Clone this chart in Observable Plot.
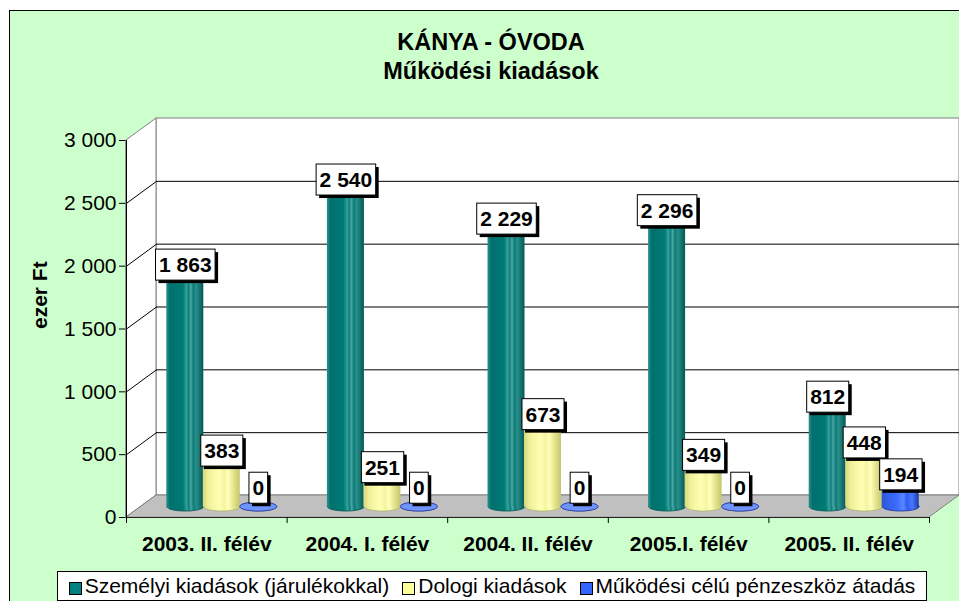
<!DOCTYPE html>
<html><head><meta charset="utf-8">
<script src="https://cdn.jsdelivr.net/npm/d3@7"></script>
<script src="https://cdn.jsdelivr.net/npm/@observablehq/plot@0.6"></script>
<style>
html,body{margin:0;padding:0;width:959px;height:601px;overflow:hidden;background:#fff;font-family:"Liberation Sans",Arial,sans-serif;color:#000;}
#frame{position:absolute;left:9px;top:10px;width:1000px;height:700px;background:#CCFFCC;border-left:1px solid #000;border-top:1px solid #000;}
#chart{position:absolute;left:0;top:0;}
#title{position:absolute;left:0;top:28px;width:982px;text-align:center;font-weight:bold;font-size:23.5px;line-height:29px;}
#legend{position:absolute;left:57px;top:571px;width:868px;height:28px;border:1px solid #000;background:#fff;display:flex;align-items:center;justify-content:center;font-size:21px;white-space:nowrap;}
#legend .sw{display:inline-block;width:11px;height:11px;border:1px solid #000;margin-right:3px;position:relative;top:2px;}
#legend .item{display:inline-flex;align-items:center;margin-right:13px;}
#legend .item:last-child{margin-right:0;}
</style>
</head><body>
<svg width="0" height="0" style="position:absolute">
<defs>
<linearGradient id="gTeal" x1="0" x2="1" y1="0" y2="0">
<stop offset="0%" stop-color="#2a918d"/><stop offset="10%" stop-color="#00706c"/><stop offset="45%" stop-color="#007a76"/>
<stop offset="55%" stop-color="#3aa09c"/><stop offset="60%" stop-color="#0a7d79"/><stop offset="66%" stop-color="#4aa8a4"/>
<stop offset="73%" stop-color="#0b7a76"/><stop offset="80%" stop-color="#2b8f8b"/><stop offset="100%" stop-color="#005a57"/>
</linearGradient>
<linearGradient id="gYellow" x1="0" x2="1" y1="0" y2="0">
<stop offset="0%" stop-color="#d6d67c"/><stop offset="15%" stop-color="#f0f09a"/><stop offset="45%" stop-color="#ffffb4"/>
<stop offset="58%" stop-color="#f4f4a0"/><stop offset="68%" stop-color="#ffffbc"/><stop offset="82%" stop-color="#e6e68e"/><stop offset="100%" stop-color="#c4c474"/>
</linearGradient>
<linearGradient id="gBlue" x1="0" x2="1" y1="0" y2="0">
<stop offset="0%" stop-color="#2c58d8"/><stop offset="40%" stop-color="#3b6cff"/><stop offset="58%" stop-color="#5a86ff"/>
<stop offset="68%" stop-color="#2f5ef0"/><stop offset="82%" stop-color="#4a78ff"/><stop offset="100%" stop-color="#1a3aa8"/>
</linearGradient>
</defs>
</svg>
<div id="frame"></div>
<div id="chart"></div>
<div id="title">KÁNYA - ÓVODA<br>Működési kiadások</div>
<div id="legend"></div>
<script>
// ---- data ----
const categories = ["2003. II. félév", "2004. I. félév", "2004. II. félév", "2005.I. félév", "2005. II. félév"];
const seriesNames = ["Személyi kiadások (járulékokkal)", "Dologi kiadások", "Működési célú pénzeszköz átadás"];
const szemelyi = [1863, 2540, 2229, 2296, 812];
const dologi = [383, 251, 673, 349, 448];
const atadas = [0, 0, 0, 0, 194];
const yTicks = [0, 500, 1000, 1500, 2000, 2500, 3000];
const yTitle = "ezer Ft";

// ---- styling ----
const seriesValues = [szemelyi, dologi, atadas];
const swatchColors = ["#008080", "#FFFF99", "#3366FF"];
const bodyFills = ["url(#gTeal)", "url(#gYellow)", "url(#gBlue)"];
const topFills = ["#3c9c98", "#ffffc4", "#6f93ff"];
const capStrokes = ["#005552", "#b0b070", "#1a2f90"];

const W = 959, H = 560, mL = 126, mR = 30, mT = 140, mB = 43;
const yMax = 3000;
const nCat = categories.length;
const pxX = (W - mL - mR) / nCat;      // px per category unit
const pxY = (H - mT - mB) / yMax;      // px per value unit
const DX = 30, DY = 22;                // 3D depth in px
const dXu = DX / pxX, dYu = DY / pxY;  // depth in data units
const barStep = 36.5 / pxX;
const barHalf = 18.5 / pxX;
const barR = barHalf * pxX;
const fmt = v => d3.format(",")(v).replace(/,/g, " ");

const ellipse = {
  draw(ctx, size) {
    const rx = Math.sqrt(size / Math.PI), ry = rx * 0.245, k = 0.5523;
    ctx.moveTo(-rx, 0);
    ctx.bezierCurveTo(-rx, -ry * k, -rx * k, -ry, 0, -ry);
    ctx.bezierCurveTo(rx * k, -ry, rx, -ry * k, rx, 0);
    ctx.bezierCurveTo(rx, ry * k, rx * k, ry, 0, ry);
    ctx.bezierCurveTo(-rx * k, ry, -rx, ry * k, -rx, 0);
    ctx.closePath();
  }
};

const rows = [];
seriesValues.forEach((vals, s) => vals.forEach((v, i) => rows.push({s, i, value: v, pos: i + 0.5 + (s - 1) * barStep})));

const sideWall = [{x: 0, y1: 0, y2: yMax}, {x: dXu, y1: dYu, y2: yMax + dYu}];
const floor = [{y: 0, x1: 0, x2: nCat}, {y: dYu, x1: dXu, x2: nCat + dXu}];
const gridVals = yTicks.filter(v => v > 0 && v < yMax);

const marks = [
  Plot.rect([0], {x1: 0, x2: nCat, y1: 0, y2: yMax, dx: DX, dy: -DY, fill: "white", stroke: "#808080"}),
  Plot.areaY(sideWall, {x: "x", y1: "y1", y2: "y2", fill: "white", stroke: "#808080"}),
  Plot.areaX(floor, {y: "y", x1: "x1", x2: "x2", fill: "#C0C0C0", stroke: "#808080"}),
  Plot.ruleY(gridVals, {x1: 0, x2: nCat, dx: DX, dy: -DY, stroke: "black"}),
  Plot.link(gridVals, {x1: 0, y1: d => d, x2: dXu, y2: d => d + dYu, stroke: "black"}),
  Plot.ruleX([0], {y1: 0, y2: yMax, stroke: "black"}),
  Plot.ruleY([0], {x1: 0, x2: nCat, stroke: "#222"}),
  Plot.ruleX(d3.range(nCat + 1), {y1: 0, y2: 0, insetBottom: -6, stroke: "black"})
];

for (let s = 0; s < seriesValues.length; s++) {
  const data = rows.filter(d => d.s === s);
  marks.push(
    Plot.dot(data, {x: "pos", y: () => 0, dx: DX / 2, dy: -DY / 2, r: barR, symbol: ellipse, fill: bodyFills[s], stroke: capStrokes[s], strokeWidth: 0.8}),
    Plot.rect(data, {x1: d => d.pos - barHalf, x2: d => d.pos + barHalf, y1: () => 0, y2: "value", dx: DX / 2, dy: -DY / 2, fill: bodyFills[s]}),
    Plot.dot(data, {x: "pos", y: "value", dx: DX / 2, dy: -DY / 2, r: barR, symbol: ellipse, fill: topFills[s], stroke: capStrokes[s], strokeWidth: 0.6})
  );
}

marks.push(
  Plot.text(rows.filter(d => d.value > 0), {x: "pos", y: "value", text: d => fmt(d.value), dx: DX / 2, dy: -DY / 2 - 7, fontWeight: "bold", ariaDescription: "datalabel"}),
  Plot.text(rows.filter(d => d.value === 0), {x: "pos", y: "value", text: d => fmt(d.value), dx: DX / 2, dy: -DY / 2 - 18, fontWeight: "bold", ariaDescription: "datalabel"}),
  Plot.text(categories, {x: (d, i) => i + 0.5, y: () => 0, text: d => d, dy: 26.5, fontWeight: "bold"}),
  Plot.text([yTitle], {frameAnchor: "left", text: d => d, dx: 40 - mL, rotate: -90, fontWeight: "bold", fontSize: 21})
);

const svg = Plot.plot({
  width: W, height: H,
  marginLeft: mL, marginRight: mR, marginTop: mT, marginBottom: mB,
  style: {background: "none", overflow: "visible", fontFamily: "'Liberation Sans', Arial, sans-serif", fontSize: "21px", color: "black"},
  x: {domain: [0, nCat], axis: null},
  y: {domain: [0, yMax], ticks: yTicks, tickFormat: fmt, tickSize: 7, tickPadding: 3, label: null},
  marks
});
document.getElementById("chart").append(svg);

// boxes behind data labels
const NS = "http://www.w3.org/2000/svg";
svg.querySelectorAll('g[aria-description="datalabel"] text').forEach(t => {
  const b = t.getBBox();
  const tr = t.getAttribute("transform");
  const padX = 3.5, padY = 4;
  const mk = (off, fill, stroke) => {
    const r = document.createElementNS(NS, "rect");
    r.setAttribute("x", b.x - padX + off);
    r.setAttribute("y", b.y - padY + off);
    r.setAttribute("width", b.width + 2 * padX);
    r.setAttribute("height", b.height + 2 * padY);
    r.setAttribute("fill", fill);
    if (stroke) { r.setAttribute("stroke", stroke); r.setAttribute("stroke-width", 1); }
    if (tr) r.setAttribute("transform", tr);
    t.parentNode.insertBefore(r, t);
  };
  mk(3, "black");
  mk(0, "white", "black");
});

// legend
const lg = document.getElementById("legend");
seriesNames.forEach((name, s) => {
  const item = document.createElement("span");
  item.className = "item";
  const sw = document.createElement("span");
  sw.className = "sw";
  sw.style.background = swatchColors[s];
  const tx = document.createElement("span");
  tx.textContent = name;
  item.append(sw, tx);
  lg.append(item);
});
</script>
</body></html>
